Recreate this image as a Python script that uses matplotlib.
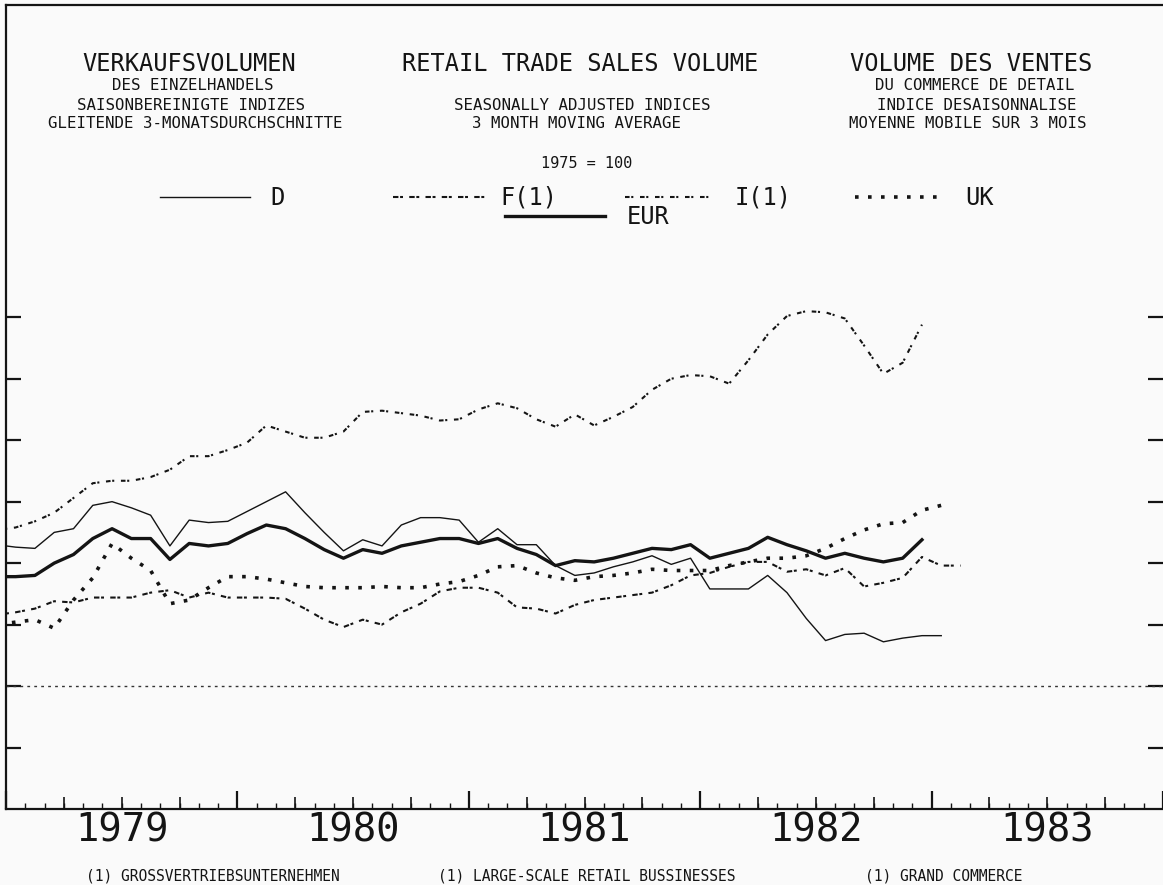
import matplotlib
matplotlib.use("Agg")
import matplotlib.pyplot as plt
import matplotlib.transforms as mtransforms
import numpy as np
from matplotlib.lines import Line2D

# monthly values, first one is Dec 1978 (month -1), points sit at mid-month
first_month = -1

d_vals = [111.5, 111.3, 111.2, 112.5, 112.8, 114.7, 115.0, 114.5, 113.9, 111.4,
          113.5, 113.3, 113.4, 114.2, 115.0, 115.8, 114.1, 112.5, 111.0, 111.9,
          111.4, 113.1, 113.7, 113.7, 113.5, 111.7, 112.8, 111.5, 111.5, 109.8,
          109.0, 109.2, 109.7, 110.1, 110.6, 109.9, 110.4, 107.9, 107.9, 107.9,
          109.0, 107.6, 105.5, 103.7, 104.2, 104.3, 103.6, 103.9, 104.1, 104.1]

eur_vals = [108.9, 108.9, 109.0, 110.0, 110.7, 112.0, 112.8, 112.0, 112.0, 110.3,
            111.6, 111.4, 111.6, 112.4, 113.1, 112.8, 112.0, 111.1, 110.4, 111.1,
            110.8, 111.4, 111.7, 112.0, 112.0, 111.6, 112.0, 111.2, 110.7, 109.8,
            110.2, 110.1, 110.4, 110.8, 111.2, 111.1, 111.5, 110.4, 110.8, 111.2,
            112.1, 111.5, 111.0, 110.4, 110.8, 110.4, 110.1, 110.4, 111.9]

i_vals = [112.7, 112.9, 113.4, 114.1, 115.3, 116.5, 116.7, 116.7, 117.0, 117.6,
          118.7, 118.7, 119.2, 119.8, 121.2, 120.7, 120.2, 120.2, 120.7, 122.3,
          122.4, 122.2, 122.0, 121.6, 121.7, 122.5, 123.0, 122.6, 121.7, 121.1,
          122.1, 121.2, 121.9, 122.7, 124.1, 125.0, 125.3, 125.2, 124.6, 126.5,
          128.6, 130.1, 130.5, 130.4, 129.9, 127.7, 125.4, 126.3, 129.4]

f_vals = [105.8, 106.0, 106.3, 106.9, 106.8, 107.2, 107.2, 107.2, 107.6, 107.8,
          107.2, 107.6, 107.2, 107.2, 107.2, 107.1, 106.3, 105.4, 104.8, 105.4,
          105.0, 106.0, 106.7, 107.7, 108.0, 108.0, 107.6, 106.4, 106.3, 105.9,
          106.6, 107.0, 107.2, 107.4, 107.6, 108.2, 109.0, 109.2, 109.7, 110.1,
          110.1, 109.3, 109.5, 109.0, 109.6, 108.1, 108.4, 108.8, 110.5, 109.8,
          109.8]

uk_vals = [105.0, 105.2, 105.4, 104.7, 107.0, 108.8, 111.6, 110.4, 109.4, 106.7,
           107.0, 108.0, 108.9, 108.9, 108.7, 108.4, 108.1, 108.0, 108.0, 108.0,
           108.1, 108.0, 108.0, 108.3, 108.5, 109.0, 109.7, 109.8, 109.2, 108.8,
           108.6, 108.9, 109.0, 109.2, 109.5, 109.4, 109.4, 109.4, 109.8, 110.1,
           110.4, 110.4, 110.6, 111.2, 112.0, 112.7, 113.2, 113.3, 114.3, 114.7]

years = [1979, 1980, 1981, 1982, 1983]
y_ticks = [95, 100, 105, 110, 115, 120, 125, 130]

W, H = 1163, 885
INK = "#141414"
BG = "#fafafa"
STYLE_F = dict(lw=1.5, ls=(0, (2.6, 0.8, 1.4, 3.0)))
STYLE_I = dict(lw=1.5, ls=(0, (2.2, 0.8, 1.0, 3.2)))
STYLE_UK = dict(lw=2.6, ls=(0, (1.0, 2.6)))


def fx(x):
    return x / W


def fy(y):
    return 1 - y / H


def months(vals):
    return np.arange(len(vals)) + first_month + 0.5


plt.rcParams["font.family"] = ["DejaVu Sans Mono"]
fig = plt.figure(figsize=(W / 100, H / 100), dpi=100, facecolor=BG)
ax = fig.add_axes([fx(6), fy(809), 1 - fx(6), (809 - 5) / H], facecolor=BG)

ax.plot(months(d_vals), d_vals, color=INK, lw=1.0)
ax.plot(months(eur_vals), eur_vals, color=INK, lw=2.4)
ax.plot(months(i_vals), i_vals, color=INK, **STYLE_I)
ax.plot(months(f_vals), f_vals, color=INK, **STYLE_F)
ax.plot(months(uk_vals), uk_vals, color=INK, **STYLE_UK)
ax.axhline(100, color="#333333", lw=1.0, ls=(0, (2, 3)))

ax.set_xlim(0, 60)
ax.set_ylim(90, 155.4)

# x ticks: years tall, quarters medium, months short
ax.set_xticks(range(0, 61, 12))
ax.set_xticks(range(0, 61), minor=True)
ax.tick_params(axis="x", which="major", direction="in", length=13, width=1.6,
               labelbottom=False, top=False, color=INK)
ax.tick_params(axis="x", which="minor", direction="in", length=4.5, width=1.0,
               top=False, color=INK)
sec = ax.secondary_xaxis("bottom")
sec.set_xticks([q for q in range(0, 61, 3) if q % 12])
sec.tick_params(direction="in", length=9, width=1.2, labelbottom=False, color=INK)
sec.spines["bottom"].set_visible(False)

ax.set_yticks(y_ticks)
ax.tick_params(axis="y", direction="in", length=11, width=1.6, left=True,
               right=True, labelleft=False, color=INK)

for side in ["left", "bottom", "top"]:
    ax.spines[side].set_linewidth(1.6)
    ax.spines[side].set_color(INK)
ax.spines["right"].set_visible(False)

# year labels centred in each year, below the axes
year_tr = mtransforms.blended_transform_factory(ax.transData, fig.transFigure)
for k, yr in enumerate(years):
    ax.text(12 * k + 6, fy(831), str(yr), transform=year_tr, fontsize=28,
            ha="center", va="center", color=INK, clip_on=False)

# headings
heads = [
    (189, 64, "VERKAUFSVOLUMEN", 17),
    (193, 86, "DES EINZELHANDELS", 11.3),
    (191, 105, "SAISONBEREINIGTE INDIZES", 11.3),
    (195, 124, "GLEITENDE 3-MONATSDURCHSCHNITTE", 11.3),
    (580, 64, "RETAIL TRADE SALES VOLUME", 17),
    (582, 105, "SEASONALLY ADJUSTED INDICES", 11.3),
    (577, 124, "3 MONTH MOVING AVERAGE", 11.3),
    (587, 163, "1975 = 100", 11),
    (971, 64, "VOLUME DES VENTES", 17),
    (975, 86, "DU COMMERCE DE DETAIL", 11.3),
    (977, 105, "INDICE DESAISONNALISE", 11.3),
    (968, 124, "MOYENNE MOBILE SUR 3 MOIS", 11.3),
]
for x, y, s, size in heads:
    fig.text(fx(x), fy(y), s, fontsize=size, ha="center", va="center", color=INK)

# legend drawn by hand
legend = [
    (160, 250, 197, 270, "D", dict(lw=1.0)),
    (393, 488, 197, 500, "F(1)", STYLE_F),
    (625, 715, 197, 735, "I(1)", STYLE_I),
    (855, 945, 197, 965, "UK", STYLE_UK),
    (505, 605, 216, 627, "EUR", dict(lw=2.4)),
]
for x0, x1, y, xl, lab, style in legend:
    fig.add_artist(Line2D([fx(x0), fx(x1)], [fy(y), fy(y)], color=INK,
                          transform=fig.transFigure, **style))
    fig.text(fx(xl), fy(y + 1), lab, fontsize=17, ha="left", va="center", color=INK)

# footnotes
notes = [
    (213, "(1) GROSSVERTRIEBSUNTERNEHMEN"),
    (587, "(1) LARGE-SCALE RETAIL BUSSINESSES"),
    (944, "(1) GRAND COMMERCE"),
]
for x, s in notes:
    fig.text(fx(x), fy(876), s, fontsize=10.5, ha="center", va="center", color=INK)

fig.savefig("out.png", dpi=100, facecolor=BG)
